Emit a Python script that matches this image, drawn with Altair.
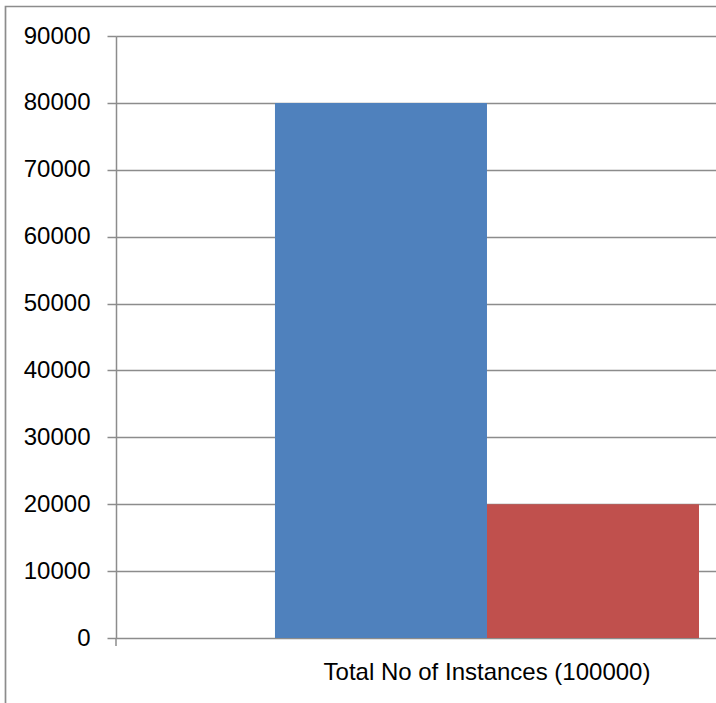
import altair as alt
import pandas as pd

categories = ["Total No of Instances (100000)"]
series = ["Series 1", "Series 2"]
values = [80000, 20000]
colors = ["#4F81BD", "#C0504D"]
y_ticks = [0, 10000, 20000, 30000, 40000, 50000, 60000, 70000, 80000, 90000]

df = pd.DataFrame({
    "category": categories * len(series),
    "series": series,
    "value": values,
})

FONT = "Liberation Sans"
GREY = "#8c8c8c"

bars = alt.Chart(df).mark_bar().encode(
    x=alt.X(
        "category:N",
        scale=alt.Scale(paddingInner=0, paddingOuter=0.2075, align=0.9034),
        axis=alt.Axis(
            title=None, labelAngle=0, ticks=False, domain=False, grid=False,
            labelFont=FONT, labelFontSize=24, labelColor="black",
            labelPadding=22, labelLimit=1000,
        ),
    ),
    xOffset=alt.XOffset("series:N", scale=alt.Scale(domain=series, paddingInner=0, paddingOuter=0)),
    y=alt.Y(
        "value:Q",
        scale=alt.Scale(domain=[0, 90000], nice=False),
        axis=alt.Axis(
            title=None, values=y_ticks, format="d",
            domainColor=GREY, domainWidth=1.5,
            tickColor=GREY, tickSize=9, tickWidth=1.5,
            gridColor=GREY, gridWidth=1.5,
            labelFont=FONT, labelFontSize=24, labelColor="black", labelPadding=17,
        ),
    ),
    color=alt.Color("series:N", scale=alt.Scale(domain=series, range=colors), legend=None),
)

frame = alt.Chart(pd.DataFrame({"a": [0]})).mark_rect(
    fillOpacity=0, stroke=GREY, strokeWidth=1.7
).encode(
    x=alt.value(-110.5), x2=alt.value(2000), y=alt.value(-29.5), y2=alt.value(2000)
)

tick = alt.Chart(pd.DataFrame({"a": [0]})).mark_rule(
    stroke=GREY, strokeWidth=1.5
).encode(
    x=alt.value(0), y=alt.value(602), y2=alt.value(610)
)

chart = alt.layer(frame, bars, tick).properties(
    width=600,
    height=602,
    padding={"left": 116, "top": 36, "right": 0, "bottom": 65},
    autosize=alt.AutoSizeParams(type="none"),
).configure_view(stroke=None).configure(background="white")

chart.save("out.html", embed_options={"renderer": "svg", "actions": False})
